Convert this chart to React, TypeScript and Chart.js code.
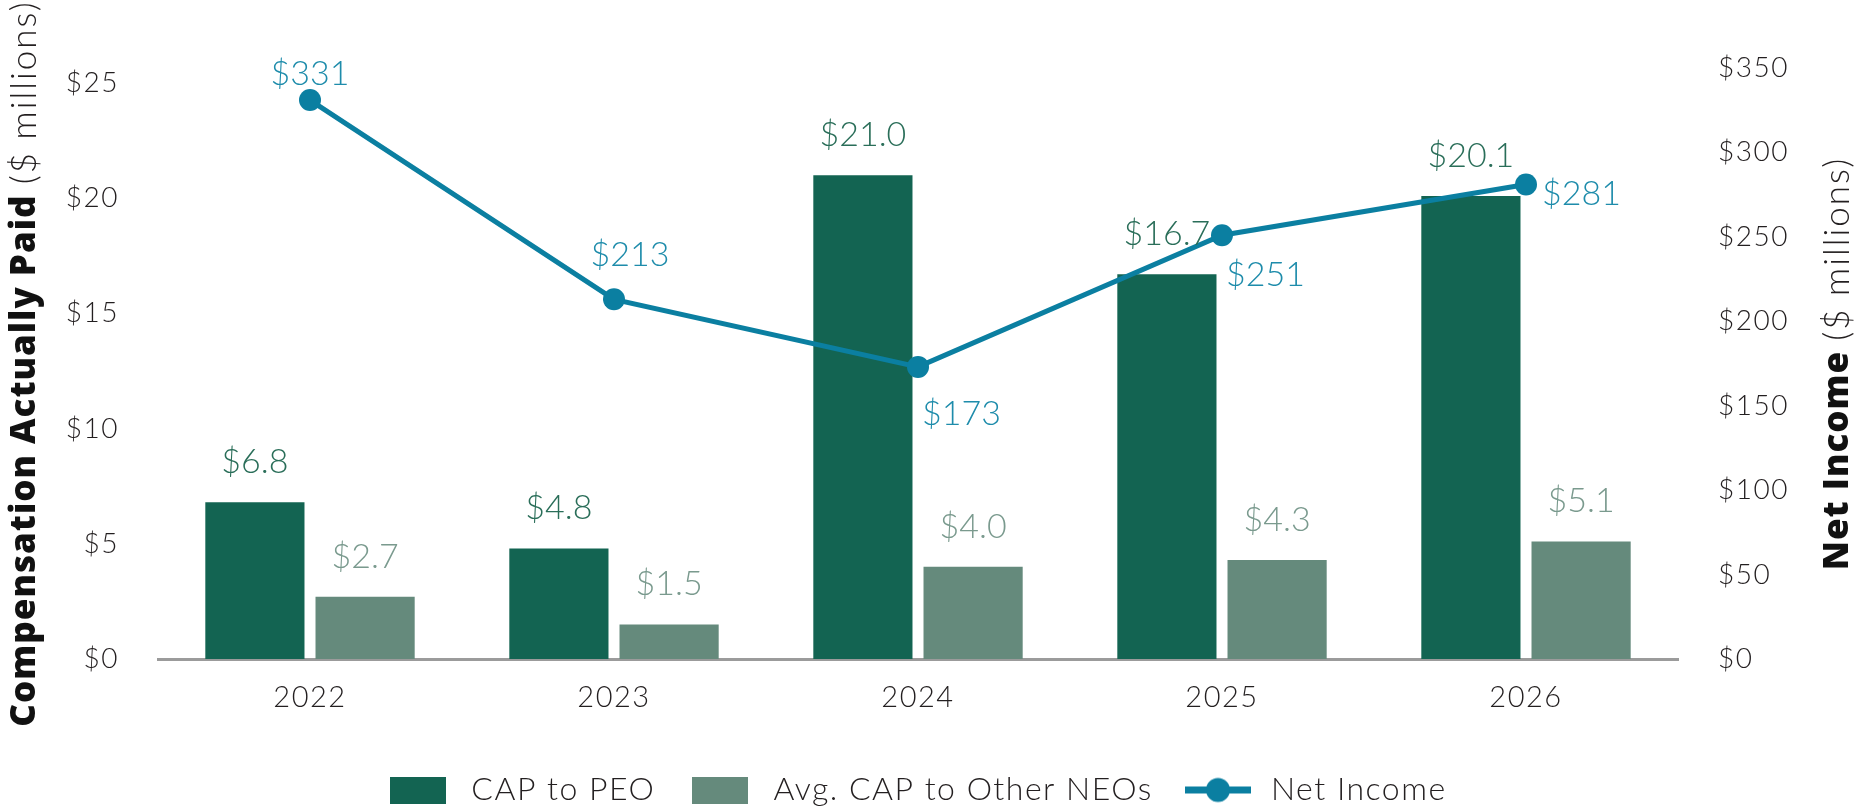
import { useEffect, useRef } from "react"
import { Chart, registerables } from "chart.js"

Chart.register(...registerables)

const years = ["2022", "2023", "2024", "2025", "2026"]
const capToPeo = [6.8, 4.8, 21.0, 16.7, 20.1]
const capToOtherNeos = [2.7, 1.5, 4.0, 4.3, 5.1]
const netIncome = [331, 213, 173, 251, 281]
const compTicks = [0, 5, 10, 15, 20, 25]
const incomeTicks = [0, 50, 100, 150, 200, 250, 300, 350]

// where each net income label sits relative to its point
const incomePlacement = ["top", "top-right", "below-right", "below-right", "right"]

const FONT = "Lato, sans-serif"
const TITLE_FONT = "'Open Sans', sans-serif"
const TEXT = "#231f20"
const PEO = "#136452"
const NEO = "#658a7c"
const LINE = "#0b7fa1"
const SPACING = "1.5px"

function rectIcon(color: string) {
  const c = document.createElement("canvas")
  c.width = 56
  c.height = 27
  const g = c.getContext("2d")!
  g.fillStyle = color
  g.fillRect(0, 0, 56, 27)
  return c
}

function lineIcon(color: string) {
  const c = document.createElement("canvas")
  c.width = 66
  c.height = 27
  const g = c.getContext("2d")!
  g.fillStyle = color
  g.fillRect(0, 10, 66, 7)
  g.beginPath()
  g.arc(33, 13.5, 12, 0, Math.PI * 2)
  g.fill()
  return c
}

// the original type is wide, so axis and legend text get a little tracking
const tracking = {
  id: "tracking",
  beforeLayout(chart: any) {
    chart.ctx.letterSpacing = SPACING
  },
  afterLayout(chart: any) {
    chart.ctx.letterSpacing = "0px"
    // legend sits a bit left of centre and low in the original
    const lg = chart.legend
    if (lg) {
      lg.left -= 17
      lg.right -= 17
      lg.top += 5
      lg.bottom += 5
    }
  },
  beforeDraw(chart: any) {
    chart.ctx.letterSpacing = SPACING
  },
  beforeDatasetsDraw(chart: any) {
    chart.ctx.letterSpacing = "0px"
  },
}

const valueLabels = {
  id: "valueLabels",
  afterDatasetsDraw(chart: any) {
    const { ctx } = chart
    ctx.save()
    chart.data.datasets.forEach((ds: any, i: number) => {
      const cfg = ds.labelStyle
      if (!cfg) return
      const meta = chart.getDatasetMeta(i)
      ctx.font = `300 34px ${FONT}`
      ctx.fillStyle = cfg.color
      ctx.textBaseline = "middle"
      meta.data.forEach((el: any, j: number) => {
        const text = cfg.format(ds.data[j])
        const place = cfg.placement ? cfg.placement[j] : "top"
        let x = el.x
        let y = el.y
        ctx.textAlign = "center"
        if (place === "top") {
          y -= cfg.offset
        } else if (place === "top-right") {
          x += 16
          y -= 44
        } else if (place === "below-right") {
          ctx.textAlign = "left"
          x += 4
          y += j === 2 ? 47 : 40
        } else if (place === "right") {
          ctx.textAlign = "left"
          x += 16
          y += 10
        }
        ctx.fillText(text, x, y)
      })
    })
    ctx.restore()
  },
}

function drawVerticalTitle(ctx: CanvasRenderingContext2D, cx: number, cy: number, bold: string, light: string) {
  const boldFont = `800 35px ${TITLE_FONT}`
  const lightFont = `300 35px ${FONT}`
  ctx.save()
  ctx.translate(cx, cy)
  ctx.rotate(-Math.PI / 2)
  ctx.font = boldFont
  ;(ctx as any).letterSpacing = "1px"
  const wb = ctx.measureText(bold).width
  ctx.font = lightFont
  ;(ctx as any).letterSpacing = "2px"
  const wl = ctx.measureText(light).width
  let x = -(wb + wl) / 2
  ctx.textAlign = "left"
  ctx.textBaseline = "middle"
  ctx.fillStyle = "#111"
  ctx.font = boldFont
  ;(ctx as any).letterSpacing = "1px"
  ctx.fillText(bold, x, 0)
  x += wb
  ctx.fillStyle = TEXT
  ctx.font = lightFont
  ;(ctx as any).letterSpacing = "2px"
  ctx.fillText(light, x, 0)
  ctx.restore()
}

const axisTitles = {
  id: "axisTitles",
  afterDraw(chart: any) {
    const { ctx, chartArea } = chart
    const cy = (chartArea.top + chartArea.bottom) / 2
    drawVerticalTitle(ctx, 25, cy, "Compensation Actually Paid ", "($ millions)")
    drawVerticalTitle(ctx, chart.width - 24, cy, "Net Income ", "($ millions)")
  },
}

export default function App() {
  const chartRef = useRef<HTMLCanvasElement>(null)

  useEffect(() => {
    if (!chartRef.current) return
    document.body.style.margin = "0"

    const icons = [rectIcon(PEO), rectIcon(NEO), lineIcon(LINE)]

    const chart = new Chart(chartRef.current, {
      type: "bar",
      data: {
        labels: years,
        datasets: [
          {
            label: "CAP to PEO",
            data: capToPeo,
            backgroundColor: PEO,
            yAxisID: "y",
            order: 1,
            categoryPercentage: 0.725,
            barPercentage: 0.9,
            labelStyle: { color: "#2a6e59", offset: 40, format: (v: number) => `$${v.toFixed(1)}` },
          } as any,
          {
            label: "Avg. CAP to Other NEOs",
            data: capToOtherNeos,
            backgroundColor: NEO,
            yAxisID: "y",
            order: 1,
            categoryPercentage: 0.725,
            barPercentage: 0.9,
            labelStyle: { color: "#7a9a8e", offset: 40, format: (v: number) => `$${v.toFixed(1)}` },
          } as any,
          {
            type: "line",
            label: "Net Income",
            data: netIncome,
            yAxisID: "y1",
            order: 0,
            borderColor: LINE,
            borderWidth: 5,
            backgroundColor: LINE,
            pointRadius: 11,
            pointBorderWidth: 0,
            pointBackgroundColor: LINE,
            labelStyle: { color: "#1e8cab", offset: 26, placement: incomePlacement, format: (v: number) => `$${v}` },
          } as any,
        ],
      },
      options: {
        responsive: true,
        maintainAspectRatio: false,
        animation: false,
        layout: { padding: { top: 68, left: 0, right: 0, bottom: 0 } },
        plugins: {
          tooltip: { enabled: false },
          legend: {
            position: "bottom",
            align: "center",
            labels: {
              usePointStyle: true,
              pointStyleWidth: 74,
              padding: 28,
              color: TEXT,
              font: { family: FONT, size: 32, weight: 300 },
              generateLabels: (c: any) =>
                c.data.datasets.map((ds: any, i: number) => ({
                  text: ds.label,
                  fillStyle: "transparent",
                  strokeStyle: "transparent",
                  lineWidth: 0,
                  pointStyle: icons[i],
                  hidden: false,
                  datasetIndex: i,
                  fontColor: TEXT,
                })),
            },
          },
        },
        scales: {
          x: {
            grid: { display: false },
            border: { display: true, color: "#9b9b9b", width: 3 },
            ticks: { color: TEXT, padding: 13, font: { family: FONT, size: 29, weight: 300 } },
            afterFit: (s: any) => {
              s.height = 82
            },
          },
          y: {
            position: "left",
            min: 0,
            max: 25.65,
            grid: { display: false },
            border: { display: false },
            afterBuildTicks: (s: any) => {
              s.ticks = compTicks.map((v) => ({ value: v }))
            },
            ticks: {
              color: TEXT,
              padding: 31,
              font: { family: FONT, size: 28, weight: 300 },
              callback: (v: any) => `$${v}`,
            },
            afterFit: (s: any) => {
              s.width = 158
            },
          },
          y1: {
            position: "right",
            min: 0,
            max: 350,
            grid: { display: false },
            border: { display: false },
            afterBuildTicks: (s: any) => {
              s.ticks = incomeTicks.map((v) => ({ value: v }))
            },
            ticks: {
              color: TEXT,
              padding: 32,
              font: { family: FONT, size: 28, weight: 300 },
              callback: (v: any) => `$${v}`,
            },
            afterFit: (s: any) => {
              s.width = 184
            },
          },
        },
      },
      plugins: [tracking, valueLabels, axisTitles],
    })

    return () => {
      chart.destroy()
    }
  }, [])

  return (
    <div style={{ width: 1862, height: 811, position: "relative" }}>
      <canvas ref={chartRef} />
    </div>
  )
}
